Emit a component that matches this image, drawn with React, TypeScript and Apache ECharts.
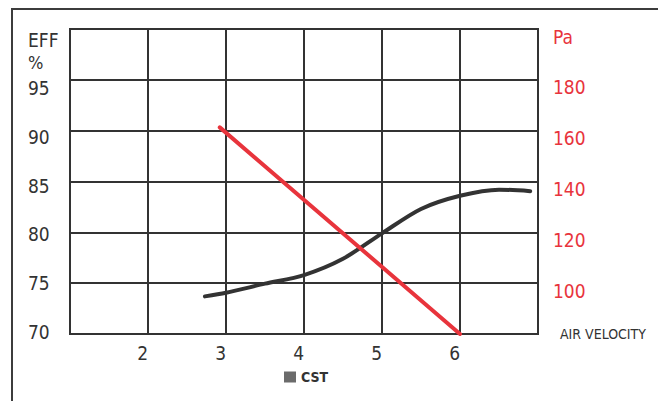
import React, { useEffect, useRef } from "react";
import * as echarts from "echarts";

const FONT = "'Liberation Sans Narrow', 'DejaVu Sans Condensed', 'Arial Narrow', sans-serif";

// Efficiency curve (CST) – [air velocity, EFF %]
const cstCurve: [number, number][] = [
  [2.73, 73.7],
  [3.0, 74.05],
  [3.5, 74.95],
  [4.0, 75.8],
  [4.5, 77.4],
  [5.0, 79.9],
  [5.5, 82.3],
  [6.0, 83.6],
  [6.5, 84.2],
  [6.9, 84.05],
];

// Pressure drop line – [air velocity, Pa]
const pressureLine: [number, number][] = [
  [2.92, 161.3],
  [6.0, 80],
];

const xTickLabels = ["2", "3", "4", "5", "6"];
const leftTop = "EFF";
const leftUnit = "%";
const rightTop = "Pa";
const xName = "AIR VELOCITY";
const seriesName = "CST";

export default function App() {
  const ref = useRef<HTMLDivElement>(null);
  useEffect(() => {
    document.body.style.margin = "0";
    const chart = echarts.init(ref.current!, null, { renderer: "svg" });
    const dark = "#333333";
    const red = "#e8343c";
    const labelSize = 19;
    chart.setOption({
      animation: false,
      backgroundColor: "#ffffff",
      textStyle: { fontFamily: FONT },
      graphic: [
        {
          type: "rect",
          shape: { x: 12, y: 9, width: 700, height: 500 },
          style: { fill: "none", stroke: "#3c3c3c", lineWidth: 2 },
          silent: true,
        },
        {
          type: "text",
          left: 28,
          top: 53,
          style: { text: leftUnit, fontFamily: FONT, fontSize: 18, fill: dark },
          silent: true,
        },
      ],
      legend: {
        data: [{ name: seriesName, itemStyle: { color: "#6b6b6b" } }],
        icon: "rect",
        itemWidth: 12,
        itemHeight: 11,
        left: 284,
        top: 370,
        padding: 0,
        textStyle: { fontFamily: FONT, fontSize: 14, fontWeight: "bold", color: dark },
      },
      grid: [
        { left: 70, right: 120, top: 29, bottom: 67, show: true, borderColor: dark, borderWidth: 2, backgroundColor: "transparent" },
        { left: 28, right: 120, top: 39.5, bottom: 69.5, show: false },
      ],
      xAxis: [
        {
          type: "value",
          gridIndex: 0,
          min: 1,
          max: 7,
          interval: 1,
          name: xName,
          nameLocation: "end",
          nameGap: 22,
          nameTextStyle: { fontFamily: FONT, fontSize: 14, color: dark, align: "left", verticalAlign: "middle" },
          axisLine: { show: true, lineStyle: { color: dark, width: 2 } },
          axisTick: { show: false },
          splitLine: { show: true, lineStyle: { color: dark, width: 2 } },
          axisLabel: {
            fontFamily: FONT,
            fontSize: labelSize,
            color: dark,
            align: "right",
            margin: 9,
            formatter: (v: number) => (xTickLabels.includes(String(v)) ? String(v) : ""),
          },
        },
        { type: "value", gridIndex: 1, min: 1, max: 7, show: false },
      ],
      yAxis: [
        {
          type: "value",
          gridIndex: 0,
          min: 70,
          max: 100,
          interval: 5,
          axisLine: { show: true, lineStyle: { color: dark, width: 2 } },
          axisTick: { show: false },
          axisLabel: { show: false },
          splitLine: { show: true, lineStyle: { color: dark, width: 2 } },
        },
        {
          type: "value",
          gridIndex: 0,
          position: "right",
          min: 80,
          max: 200,
          interval: 20,
          axisLine: { show: false },
          axisTick: { show: false },
          splitLine: { show: false },
          axisLabel: {
            fontFamily: FONT,
            fontSize: labelSize,
            color: red,
            align: "left",
            verticalAlign: "top",
            lineHeight: 15,
            margin: 15,
            formatter: (v: number) => (v === 200 ? rightTop : v === 80 ? "" : String(v)),
          },
        },
        {
          type: "value",
          gridIndex: 1,
          min: 70,
          max: 100,
          interval: 5,
          axisLine: { show: false },
          axisTick: { show: false },
          splitLine: { show: false },
          axisLabel: {
            inside: true,
            margin: 0,
            align: "left",
            fontFamily: FONT,
            fontSize: labelSize,
            color: dark,
            formatter: (v: number) => (v === 100 ? leftTop : String(v)),
          },
        },
      ],
      series: [
        {
          name: seriesName,
          type: "line",
          xAxisIndex: 0,
          yAxisIndex: 0,
          data: cstCurve,
          smooth: 0.3,
          showSymbol: false,
          lineStyle: { color: dark, width: 4, cap: "round" },
          itemStyle: { color: "#6b6b6b" },
          z: 3,
        },
        {
          name: "Pa",
          type: "line",
          xAxisIndex: 0,
          yAxisIndex: 1,
          data: pressureLine,
          showSymbol: false,
          lineStyle: { color: red, width: 4, cap: "round" },
          z: 4,
        },
      ],
    });
    return () => chart.dispose();
  }, []);
  return <div ref={ref} style={{ width: 658, height: 401 }} />;
}
